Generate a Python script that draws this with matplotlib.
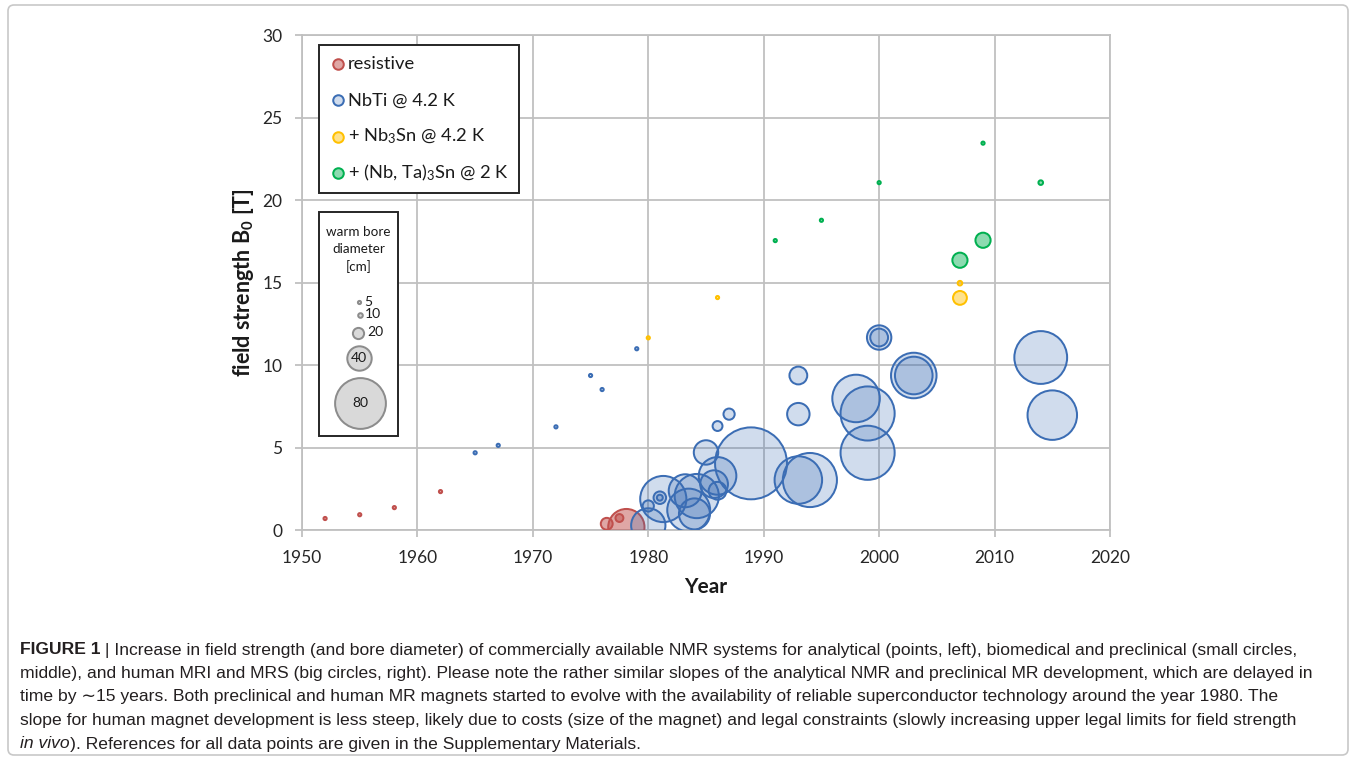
import matplotlib
matplotlib.use("Agg")
import numpy as np
import matplotlib.pyplot as plt
from matplotlib import font_manager
from matplotlib.patches import FancyBboxPatch, Rectangle

# ---- data: year, field strength [T], warm bore diameter [cm] ----
resistive_year = [1952, 1955, 1958, 1962, 1976.4, 1977.5, 1978.1]
resistive_field = [0.72, 0.95, 1.38, 2.35, 0.4, 0.75, 0.2]
resistive_bore = [5, 5, 5, 5, 21, 15, 58]

nbti_year = [1965, 1967, 1972, 1975, 1976, 1979,
             1980, 1980, 1981, 1981, 1981.3, 1983.2, 1983.5, 1984.2, 1984.0,
             1985, 1985.7, 1986, 1986, 1986, 1987, 1988.9,
             1993, 1993, 1993, 1994, 1998, 1999, 1999, 2000, 2000,
             2003, 2003, 2014, 2015]
nbti_field = [4.7, 5.15, 6.27, 9.38, 8.53, 11.0,
              0.3, 1.48, 1.98, 1.98, 1.9, 2.4, 1.23, 2.08, 1.0,
              4.72, 2.8, 2.4, 6.32, 3.3, 7.04, 4.06,
              9.38, 7.04, 3.05, 3.05, 7.99, 7.08, 4.7, 11.68, 11.68,
              9.38, 9.38, 10.47, 6.98]
nbti_bore = [5, 5, 5, 5, 5, 5,
             55, 20, 22, 12, 73, 53, 68, 70, 50,
             40, 45, 30, 18, 60, 20, 112,
             30, 37, 75, 85, 75, 85, 85, 40, 30,
             72, 60, 83, 78]

nb3sn_year = [1980, 1986, 2007, 2007]
nb3sn_field = [11.66, 14.1, 14.97, 14.08]
nb3sn_bore = [5, 5, 10, 24]

nbta3sn_year = [1991, 1995, 2000, 2009, 2014, 2007, 2009]
nbta3sn_field = [17.55, 18.78, 21.06, 23.45, 21.06, 16.36, 17.57]
nbta3sn_bore = [5, 5, 5, 5, 10, 26, 26]

legend_labels = ["resistive", "NbTi @ 4.2 K", "+ Nb$_3$Sn @ 4.2 K", "+ (Nb, Ta)$_3$Sn @ 2 K"]
size_legend_bores = [5, 10, 20, 40, 80]

caption_lines = [
    [("FIGURE 1", "bold"), (" | Increase in field strength (and bore diameter) of commercially available NMR systems for analytical (points, left), biomedical and preclinical (small circles,", "normal")],
    [("middle), and human MRI and MRS (big circles, right). Please note the rather similar slopes of the analytical NMR and preclinical MR development, which are delayed in", "normal")],
    [("time by \u223c15 years. Both preclinical and human MR magnets started to evolve with the availability of reliable superconductor technology around the year 1980. The", "normal")],
    [("slope for human magnet development is less steep, likely due to costs (size of the magnet) and legal constraints (slowly increasing upper legal limits for field strength", "normal")],
    [("in vivo", "italic"), ("). References for all data points are given in the Supplementary Materials.", "normal")],
]

W, H, DPI = 1357, 760, 100
PX_PER_CM = 0.66
LW_PX = 2.0

installed = {f.name for f in font_manager.fontManager.ttflist}
cap_font = "Liberation Sans Narrow" if "Liberation Sans Narrow" in installed else "Liberation Sans"

plt.rcParams["font.family"] = ["Lato", "DejaVu Sans"]
plt.rcParams["mathtext.fontset"] = "custom"
plt.rcParams["mathtext.rm"] = "Lato"
plt.rcParams["mathtext.it"] = "Lato:italic"
plt.rcParams["mathtext.bf"] = "Lato:bold"


def sizes(bore):
    d = np.maximum(np.asarray(bore, dtype=float) * PX_PER_CM - LW_PX, 3.2)
    return (d * 72.0 / DPI) ** 2


series = [
    (resistive_year, resistive_field, resistive_bore, "#c0504d", 0.5),
    (nbti_year, nbti_field, nbti_bore, "#3b6db4", 0.24),
    (nb3sn_year, nb3sn_field, nb3sn_bore, "#ffc000", 0.45),
    (nbta3sn_year, nbta3sn_field, nbta3sn_bore, "#00b050", 0.45),
]

fig = plt.figure(figsize=(W / DPI, H / DPI), dpi=DPI)
ax = fig.add_axes([302 / W, 1 - 530.4 / H, 808 / W, 495.4 / H])

for x, y, b, col, a in series:
    fc = matplotlib.colors.to_rgba(col, a)
    ax.scatter(x, y, s=sizes(b), facecolors=[fc], edgecolors=col,
               linewidths=LW_PX * 72 / DPI, zorder=3)

ax.set_xlim(1950, 2020)
ax.set_ylim(0, 30)
ax.set_xticks(range(1950, 2021, 10))
ax.set_yticks(range(0, 31, 5))
ax.grid(True, color="#c0c0c0", lw=1.3, zorder=0)
ax.set_axisbelow(True)
for sp in ax.spines.values():
    sp.set_color("#c0c0c0")
    sp.set_linewidth(1.3)
ax.tick_params(colors="#c0c0c0", labelcolor="#262626", labelsize=12.5,
               length=5, width=1.3)
ax.tick_params(axis="y", pad=9)
ax.tick_params(axis="x", pad=9)

ax.set_xlabel("Year", fontsize=15, fontweight="bold", color="#1a1a1a", va="center")
ax.xaxis.set_label_coords(0.5, -0.114)
ax.set_ylabel(r"field strength B$_\mathbf{0}$ [T]", fontsize=15.5, fontweight="bold",
              color="#1a1a1a", va="center")
ax.yaxis.set_label_coords(-0.073, 0.5)

# overlay in pixel coordinates for legends, caption and frame
ov = fig.add_axes([0, 0, 1, 1], zorder=5)
ov.set_xlim(0, W)
ov.set_ylim(H, 0)
ov.axis("off")

ov.add_patch(FancyBboxPatch((8, 5), W - 17, H - 10, boxstyle="round,pad=0,rounding_size=6",
                            fc="none", ec="#c8c8c8", lw=1.2))

# series legend
ov.add_patch(Rectangle((319, 45), 200, 148, fc="white", ec="#262626", lw=1.4))
for i, (x, y, b, col, a) in enumerate(series):
    yy = 64 + i * 36.3
    ov.scatter([338], [yy], s=sizes([19]), facecolors=[matplotlib.colors.to_rgba(col, a)],
               edgecolors=col, linewidths=LW_PX * 72 / DPI)
    ov.text(348, yy, legend_labels[i], fontsize=13.2, va="center", ha="left",
            color="#1a1a1a")

# bore size legend
ov.add_patch(Rectangle((319, 212), 79, 224, fc="white", ec="#262626", lw=1.4))
ov.text(358.5, 249.5, "warm bore\ndiameter\n[cm]", fontsize=9.7, ha="center", va="center",
        linespacing=1.5, color="#1a1a1a")
leg_pos = [(359.3, 302), (360, 314.5), (358.3, 332.5), (359.3, 358.3), (360, 403.3)]
for bval, (px, py) in zip(size_legend_bores, leg_pos):
    ov.scatter([px], [py], s=sizes([bval]), facecolors=["#d9d9d9"], edgecolors="#8c8c8c",
               linewidths=LW_PX * 72 / DPI)
    if bval < 40:
        r = max(bval * PX_PER_CM, 5) / 2
        ov.text(px + r + 2, py, str(bval), fontsize=10, va="center", ha="left", color="#1a1a1a")
    else:
        ov.text(px, py, str(bval), fontsize=10, va="center", ha="center", color="#1a1a1a")

# caption
renderer = fig.canvas.get_renderer()
cap_y = [650, 673.5, 697, 720.5, 744]
for line, y in zip(caption_lines, cap_y):
    x = 20
    for txt, style in line:
        kw = dict(fontsize=12.6, va="center", ha="left", color="#231f20",
                  family=[cap_font, "DejaVu Sans"])
        if style == "bold":
            kw["fontweight"] = "bold"
        if style == "italic":
            kw["fontstyle"] = "italic"
        t = ov.text(x, y, txt, **kw)
        x += t.get_window_extent(renderer).width

fig.savefig("out.png", dpi=DPI)
